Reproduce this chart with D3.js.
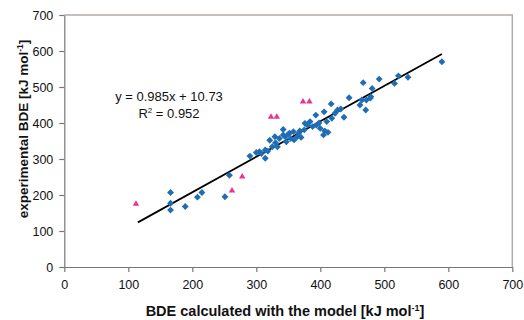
<!DOCTYPE html>
<html><head><meta charset="utf-8">
<script src="https://cdn.jsdelivr.net/npm/d3@7"></script>
<style>body{margin:0;background:#fff;}svg{display:block;font-family:"Liberation Sans",Arial,sans-serif;}</style>
</head><body>
<script>
const xTicks = [0,100,200,300,400,500,600,700];
const yTicks = [0,100,200,300,400,500,600,700];
const blueX = [166,166,166,189,208,215,251,258,290,300,308,314,314,321,325,329,333,336,342,342,347,350,354,358,359,364,366,368,375,376,380,384,393,394,400,405,407,406,410,412,417,418,423,427,432,437,445,462,465,471,472,478,479,481,467,492,516,522,537,590,305,318,330,345,352,370,388,398];
const blueY = [207,177,158,168,194,207,195,255,308,318,315,302,325,352,334,362,334,357,382,367,348,369,357,376,353,362,371,378,381,399,394,404,422,394,385,367,378,431,404,374,453,413,427,436,439,416,470,450,464,436,464,469,473,496,512,522,510,531,527,570,320,322,345,362,372,360,390,400];
const pinkX = [112,262,278,323,332,373,383];
const pinkY = [175,212,251,417,417,459,459];
const slope = 0.985, intercept = 10.73;
const fitRange = [115,590];

const W=524,H=320;
const svg=d3.select("body").append("svg").attr("width",W).attr("height",H);
const x=d3.scaleLinear().domain([0,700]).range([64.3,512.3]);
const y=d3.scaleLinear().domain([0,700]).range([267,15]);

svg.append("path").attr("d",`M${x(0)},${y(700)}H${x(700)}V${y(0)}`).attr("fill","none").attr("stroke","#b3aca6").attr("stroke-width",1.5);

const gx=svg.append("g").attr("transform",`translate(0,${y(0)})`)
  .call(d3.axisBottom(x).tickValues(xTicks).tickSize(5).tickPadding(8).tickSizeOuter(0));
const gy=svg.append("g").attr("transform",`translate(${x(0)},0)`)
  .call(d3.axisLeft(y).tickValues(yTicks).tickSize(5).tickPadding(6).tickSizeOuter(0));
[gx,gy].forEach(g=>{
  g.selectAll("path,line").attr("stroke","#777").attr("stroke-width",1.2);
  g.selectAll("text").attr("font-size",12.5).attr("fill","#111").attr("font-family","Liberation Sans, Arial, sans-serif");
});

svg.append("line").attr("x1",x(fitRange[0])).attr("y1",y(slope*fitRange[0]+intercept))
  .attr("x2",x(fitRange[1])).attr("y2",y(slope*fitRange[1]+intercept))
  .attr("stroke","#000").attr("stroke-width",1.8);

const diamond=d3.symbol().type(d3.symbolDiamond2).size(30);
svg.append("g").selectAll("path").data(blueX.map((v,i)=>[v,blueY[i]])).join("path")
  .attr("d",diamond).attr("transform",d=>`translate(${x(d[0])},${y(d[1])})`).attr("fill","#1f6db5");

const tri=d3.symbol().type(d3.symbolTriangle).size(18);
svg.append("g").selectAll("path").data(pinkX.map((v,i)=>[v,pinkY[i]])).join("path")
  .attr("d",tri).attr("transform",d=>`translate(${x(d[0])},${y(d[1])})`).attr("fill","#e8368f");

svg.append("text").attr("x",169).attr("y",101).attr("text-anchor","middle").attr("font-size",13).attr("fill","#111")
  .text("y = 0.985x + 10.73");
const r=svg.append("text").attr("x",169).attr("y",118).attr("text-anchor","middle").attr("font-size",13).attr("fill","#111");
r.append("tspan").text("R");
r.append("tspan").attr("font-size",8).attr("dy",-5).text("2");
r.append("tspan").attr("dy",5).text(" = 0.952");

const xt=svg.append("text").attr("x",285).attr("y",316).attr("text-anchor","middle").attr("font-size",14.5).attr("font-weight","bold").attr("fill","#111");
xt.append("tspan").text("BDE calculated with the model [kJ mol");
xt.append("tspan").attr("font-size",9).attr("dy",-5).text("-1");
xt.append("tspan").attr("dy",5).text("]");

const yt=svg.append("text").attr("transform","translate(28,129) rotate(-90)").attr("text-anchor","middle").attr("font-size",13.5).attr("font-weight","bold").attr("fill","#111");
yt.append("tspan").text("experimental BDE [kJ mol");
yt.append("tspan").attr("font-size",8.5).attr("dy",-5).text("-1");
yt.append("tspan").attr("dy",5).text("]");
</script>
</body></html>
